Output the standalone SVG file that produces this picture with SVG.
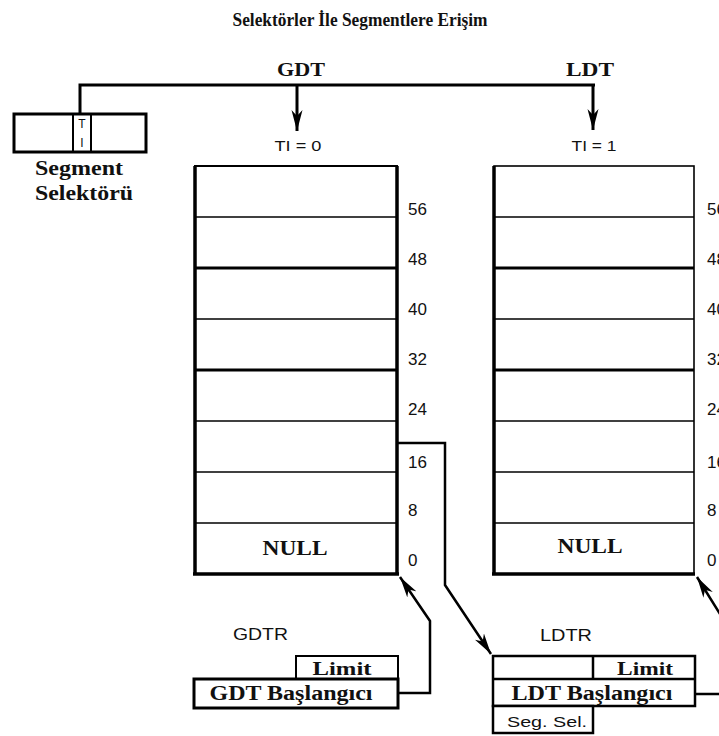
<svg xmlns="http://www.w3.org/2000/svg" width="719" height="736" viewBox="0 0 719 736">
<style>
.serif{font-family:"Liberation Serif","Times New Roman",serif;font-weight:bold;fill:#111}
.sans{font-family:"Liberation Sans",Arial,sans-serif;fill:#111}
.box{fill:#fff;stroke:#000}
.ln{fill:none;stroke:#000;stroke-linejoin:miter}
</style>
<defs>
<marker id="ah" markerUnits="userSpaceOnUse" markerWidth="22" markerHeight="12" refX="21" refY="6" orient="auto" viewBox="0 0 22 12">
<path d="M0,0.5 L21,6 L0,11.5 L6,6 Z" fill="#000"/>
</marker>
</defs>
<rect width="719" height="736" fill="#fff"/>
<text class="serif" x="360" y="26" font-size="18" text-anchor="middle" textLength="255" lengthAdjust="spacingAndGlyphs">Selektörler İle Segmentlere Erişim</text>

<g id="selector">
<rect class="box" x="14" y="114" width="132" height="38" stroke-width="3"/>
<line x1="73" y1="114" x2="73" y2="152" stroke="#000" stroke-width="2"/>
<line x1="91" y1="114" x2="91" y2="152" stroke="#000" stroke-width="2"/>
<text class="sans" x="82" y="128" font-size="12" text-anchor="middle">T</text>
<text class="sans" x="82" y="147" font-size="12" text-anchor="middle">I</text>
<text class="serif" x="79" y="175" font-size="21" text-anchor="middle" textLength="88" lengthAdjust="spacingAndGlyphs">Segment</text>
<text class="serif" x="84" y="200" font-size="21" text-anchor="middle" textLength="98" lengthAdjust="spacingAndGlyphs">Selektörü</text>
</g>

<g id="gdt-label">
<text class="serif" x="301" y="76" font-size="19" text-anchor="middle" textLength="48" lengthAdjust="spacingAndGlyphs">GDT</text>
<text class="sans" x="298" y="151" font-size="15" text-anchor="middle" textLength="47" lengthAdjust="spacingAndGlyphs">TI = 0</text>
</g>
<g id="ldt-label">
<text class="serif" x="590" y="76" font-size="19" text-anchor="middle" textLength="48" lengthAdjust="spacingAndGlyphs">LDT</text>
<text class="sans" x="594" y="151" font-size="15" text-anchor="middle" textLength="45" lengthAdjust="spacingAndGlyphs">TI = 1</text>
</g>

<g id="gdt-table">
<rect class="box" x="195" y="166" width="202" height="408" stroke-width="2"/>
<g stroke="#000">
<line x1="195" y1="217" x2="397" y2="217" stroke-width="1.6"/>
<line x1="195" y1="268" x2="397" y2="268" stroke-width="3"/>
<line x1="195" y1="319" x2="397" y2="319" stroke-width="1.6"/>
<line x1="195" y1="370" x2="397" y2="370" stroke-width="3"/>
<line x1="195" y1="421" x2="397" y2="421" stroke-width="1.6"/>
<line x1="195" y1="472" x2="397" y2="472" stroke-width="1.6"/>
<line x1="195" y1="523" x2="397" y2="523" stroke-width="1.6"/>
<line x1="195" y1="166" x2="195" y2="575" stroke-width="3.5"/>
<line x1="397" y1="166" x2="397" y2="575" stroke-width="3.5"/>
<line x1="193" y1="574" x2="399" y2="574" stroke-width="3.5"/>
</g>
<text class="serif" x="295" y="555" font-size="20" text-anchor="middle" textLength="65" lengthAdjust="spacingAndGlyphs">NULL</text>
<g class="sans" font-size="17">
<text x="408" y="215">56</text>
<text x="408" y="265">48</text>
<text x="408" y="315">40</text>
<text x="408" y="365">32</text>
<text x="408" y="415">24</text>
<text x="408" y="468">16</text>
<text x="408" y="516">8</text>
<text x="408" y="566">0</text>
</g>
</g>

<g id="ldt-table">
<rect class="box" x="494" y="166" width="200" height="408" stroke-width="1.6"/>
<g stroke="#000">
<line x1="494" y1="217" x2="694" y2="217" stroke-width="1.6"/>
<line x1="494" y1="268" x2="694" y2="268" stroke-width="3"/>
<line x1="494" y1="319" x2="694" y2="319" stroke-width="1.6"/>
<line x1="494" y1="370" x2="694" y2="370" stroke-width="3"/>
<line x1="494" y1="421" x2="694" y2="421" stroke-width="1.6"/>
<line x1="494" y1="472" x2="694" y2="472" stroke-width="1.6"/>
<line x1="494" y1="523" x2="694" y2="523" stroke-width="1.6"/>
<line x1="494" y1="166" x2="494" y2="575" stroke-width="3.5"/>
<line x1="492" y1="574" x2="695" y2="574" stroke-width="3.5"/>
</g>
<text class="serif" x="590" y="553" font-size="20" text-anchor="middle" textLength="65" lengthAdjust="spacingAndGlyphs">NULL</text>
<g class="sans" font-size="17">
<text x="707" y="215">56</text>
<text x="707" y="265">48</text>
<text x="707" y="315">40</text>
<text x="707" y="365">32</text>
<text x="707" y="415">24</text>
<text x="707" y="468">16</text>
<text x="707" y="516">8</text>
<text x="707" y="566">0</text>
</g>
</g>

<g id="gdtr">
<text class="sans" x="233" y="640" font-size="16" textLength="55" lengthAdjust="spacingAndGlyphs">GDTR</text>
<rect class="box" x="296" y="656" width="102" height="23" stroke-width="2"/>
<text class="serif" x="342" y="675" font-size="19" text-anchor="middle" textLength="59" lengthAdjust="spacingAndGlyphs">Limit</text>
<rect class="box" x="194" y="679" width="204" height="29" stroke-width="3"/>
<text class="serif" x="291" y="700" font-size="20" text-anchor="middle" textLength="163" lengthAdjust="spacingAndGlyphs">GDT Başlangıcı</text>
</g>

<g id="ldtr">
<text class="sans" x="540" y="641" font-size="16" textLength="52" lengthAdjust="spacingAndGlyphs">LDTR</text>
<rect class="box" x="493" y="656" width="202" height="50" stroke-width="2.5"/>
<line x1="493" y1="679" x2="695" y2="679" stroke="#000" stroke-width="2.5"/>
<line x1="593" y1="656" x2="593" y2="679" stroke="#000" stroke-width="2.5"/>
<text class="serif" x="645" y="675" font-size="19" text-anchor="middle" textLength="56" lengthAdjust="spacingAndGlyphs">Limit</text>
<text class="serif" x="592" y="700" font-size="20" text-anchor="middle" textLength="161" lengthAdjust="spacingAndGlyphs">LDT Başlangıcı</text>
<rect class="box" x="493" y="706" width="100" height="27" stroke-width="2.5"/>
<text class="sans" x="547" y="727" font-size="15" text-anchor="middle" textLength="80" lengthAdjust="spacingAndGlyphs">Seg. Sel.</text>
</g>

<g id="connectors">
<path class="ln" d="M80,113 V85 H595" stroke-width="3"/>
<path class="ln" d="M297,85 V131" stroke-width="3" marker-end="url(#ah)"/>
<path class="ln" d="M593,85 V130" stroke-width="3" marker-end="url(#ah)"/>
<path class="ln" d="M398,443 H445 V585 L491,654" stroke-width="2.5" marker-end="url(#ah)"/>
<path class="ln" d="M398,693 H430 V621 L400,577" stroke-width="2.5" marker-end="url(#ah)"/>
<path class="ln" d="M695,694 H730 V630 L697,577" stroke-width="2.5" marker-end="url(#ah)"/>
</g>
</svg>
